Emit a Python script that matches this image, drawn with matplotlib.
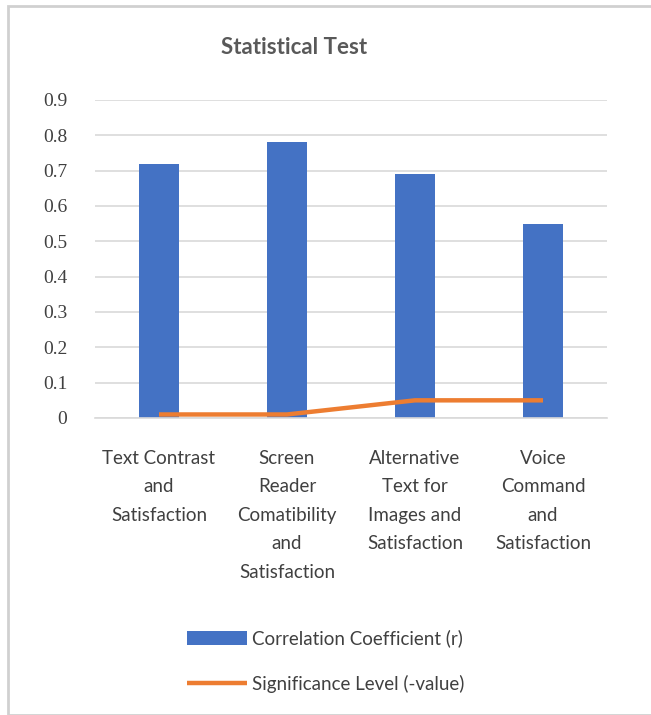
import matplotlib
matplotlib.use("Agg")
import matplotlib.pyplot as plt
from matplotlib.patches import Rectangle

categories = ["Text Contrast\nand\nSatisfaction",
              "Screen\nReader\nComatibility\nand\nSatisfaction",
              "Alternative\nText for\nImages and\nSatisfaction",
              "Voice\nCommand\nand\nSatisfaction"]
correlation = [0.72, 0.78, 0.69, 0.55]
significance = [0.01, 0.01, 0.05, 0.05]
yticks = [0, 0.1, 0.2, 0.3, 0.4, 0.5, 0.6, 0.7, 0.8, 0.9]
ytick_labels = ["0", "0.1", "0.2", "0.3", "0.4", "0.5", "0.6", "0.7", "0.8", "0.9"]

W, H = 651, 715
fig = plt.figure(figsize=(W/100, H/100), dpi=100)
fig.patches.append(Rectangle((8/W, 0), 1, 1 - 6/H, transform=fig.transFigure,
                             fill=False, edgecolor="#d0d0d0", linewidth=2))

ax = fig.add_axes([95/W, 1 - 418/H, 512/W, 318/H])
x = list(range(len(categories)))
bars = ax.bar(x, correlation, width=0.31, color="#4472C4", zorder=2,
              label="Correlation Coefficient (r)")
line, = ax.plot(x, significance, color="#ED7D31", linewidth=3.2, zorder=3,
                solid_capstyle="butt", label="Significance Level (-value)")

ax.set_xlim(-0.5, len(categories) - 0.5)
ax.set_ylim(0, 0.9)
ax.set_yticks(yticks)
ax.set_yticklabels(ytick_labels, fontfamily="Liberation Serif", fontsize=14, color="#404040")
ax.set_xticks(x)
ax.set_xticklabels(categories, fontfamily="Lato", fontsize=13.5, color="#404040",
                   linespacing=1.82)
ax.tick_params(axis="both", length=0)
ax.tick_params(axis="y", pad=20)
ax.tick_params(axis="x", pad=23)
ax.grid(axis="y", color="#d9d9d9", linewidth=1.2, zorder=0)
for s in ["left", "right", "top"]:
    ax.spines[s].set_visible(False)
ax.spines["bottom"].set_color("#d9d9d9")
ax.spines["bottom"].set_linewidth(1.2)

fig.text(0.452, 1 - 47/H, "Statistical Test", ha="center", va="center",
         fontfamily="Lato", fontsize=16, fontweight="bold", color="#595959")

leg = fig.legend([bars, line], [bars.get_label(), line.get_label()], loc="center",
                 bbox_to_anchor=(0.50, 1 - 661/H),
                 ncol=1, frameon=False, prop={"family": "Lato", "size": 13.5},
                 handlelength=3.2, handleheight=0.8, labelspacing=1.45, handletextpad=0.3)
for t in leg.get_texts():
    t.set_color("#404040")

fig.savefig("out.png", dpi=100)
